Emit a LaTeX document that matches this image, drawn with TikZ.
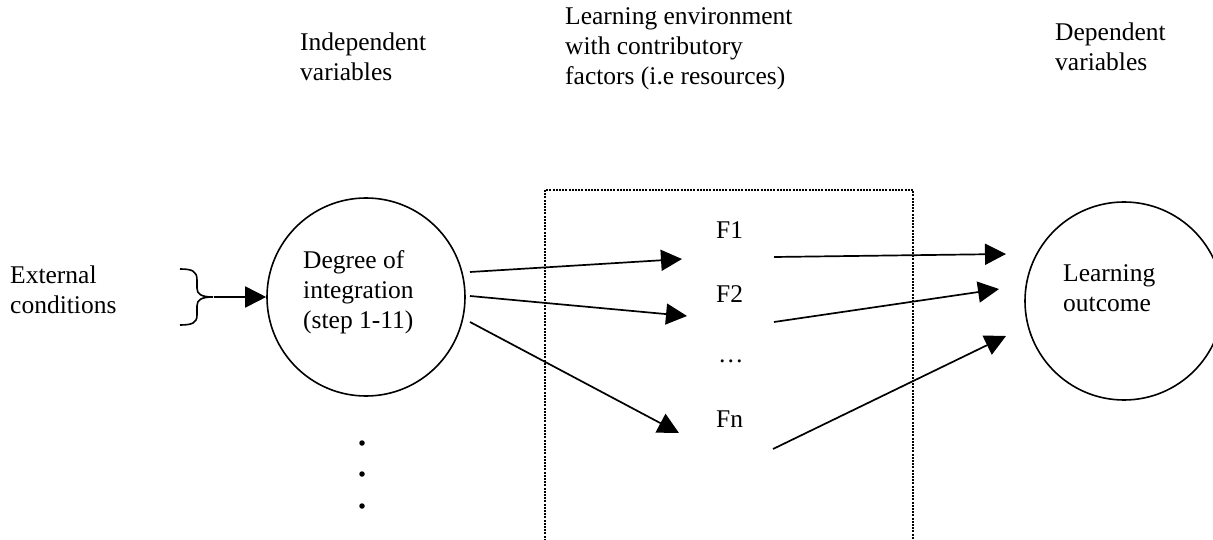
\documentclass[tikz,border=0pt]{standalone}
\usepackage{fontspec}
\setmainfont{Liberation Serif}
\usetikzlibrary{arrows.meta}
\begin{document}
\begin{tikzpicture}[x=1pt,y=-1pt,
  lbl/.style={anchor=base west, align=left, inner sep=0pt, font=\fontsize{25.5}{30}\selectfont},
  circ/.style={circle, draw, line width=1.6pt, minimum size=198pt, inner sep=0pt},
  arr/.style={-{Triangle[length=21pt,width=21pt]}, line width=1.7pt},
  dotbox/.style={line width=2.8pt, dash pattern=on 2pt off 1.2pt},
  dotmark/.style={circle, fill, inner sep=0pt, minimum size=5.5pt},
  ]
\useasboundingbox (0,0) rectangle (1213,540);
% headings (base anchor = baseline of the last line)
\node[lbl] (indv) at (300,81) {Independent\\variables};
\node[lbl] (lenv) at (565,85) {Learning environment\\with contributory\\factors (i.e resources)};
\node[lbl] (depv) at (1055,71) {Dependent\\variables};
% external conditions and brace
\node[lbl] (ext) at (10,313) {External\\conditions};
\draw[line width=1.6pt] (180,269) .. controls (192,269) and (197,271) .. (197,280) -- (197,288)
  .. controls (197,294) and (201,297) .. (213,297)
  .. controls (201,297) and (197,300) .. (197,306) -- (197,315)
  .. controls (197,323) and (192,325) .. (180,325);
\coordinate (bt) at (214,297);
% circles
\node[circ] (ind) at (366,297) {};
\node[lbl] (deg) at (303,328) {Degree of\\integration\\(step 1-11)};
\node[circ] (out) at (1124,301) {};
\node[lbl] (lo) at (1063,311) {Learning\\outcome};
\draw[arr] (bt) -- (ind);
% dotted box
\draw[dotbox] (545,560) -- (545,190) -- (913,190) -- (913,560);
% factors
\node[lbl] (f1) at (716,239) {F1};
\node[lbl] (f2) at (716,302) {F2};
\node[lbl] (fd) at (718,362) {…};
\node[lbl] (fn) at (716,427) {Fn};
% arrows
\coordinate (a1s) at (470,272); \coordinate (a1e) at (682,259);
\coordinate (a2s) at (470,296); \coordinate (a2e) at (687,316);
\coordinate (a3s) at (470,322); \coordinate (a3e) at (679,433);
\coordinate (b1s) at (774,257); \coordinate (b1e) at (1006,254);
\coordinate (b2s) at (774,322); \coordinate (b2e) at (999,289);
\coordinate (b3s) at (773,449); \coordinate (b3e) at (1006,336);
\draw[arr] (a1s) -- (a1e);
\draw[arr] (a2s) -- (a2e);
\draw[arr] (a3s) -- (a3e);
\draw[arr] (b1s) -- (b1e);
\draw[arr] (b2s) -- (b2e);
\draw[arr] (b3s) -- (b3e);
% vertical dots
\node[dotmark] (d1) at (362,443) {};
\node[dotmark] (d2) at (362,474) {};
\node[dotmark] (d3) at (362,506) {};
\end{tikzpicture}
\end{document}
